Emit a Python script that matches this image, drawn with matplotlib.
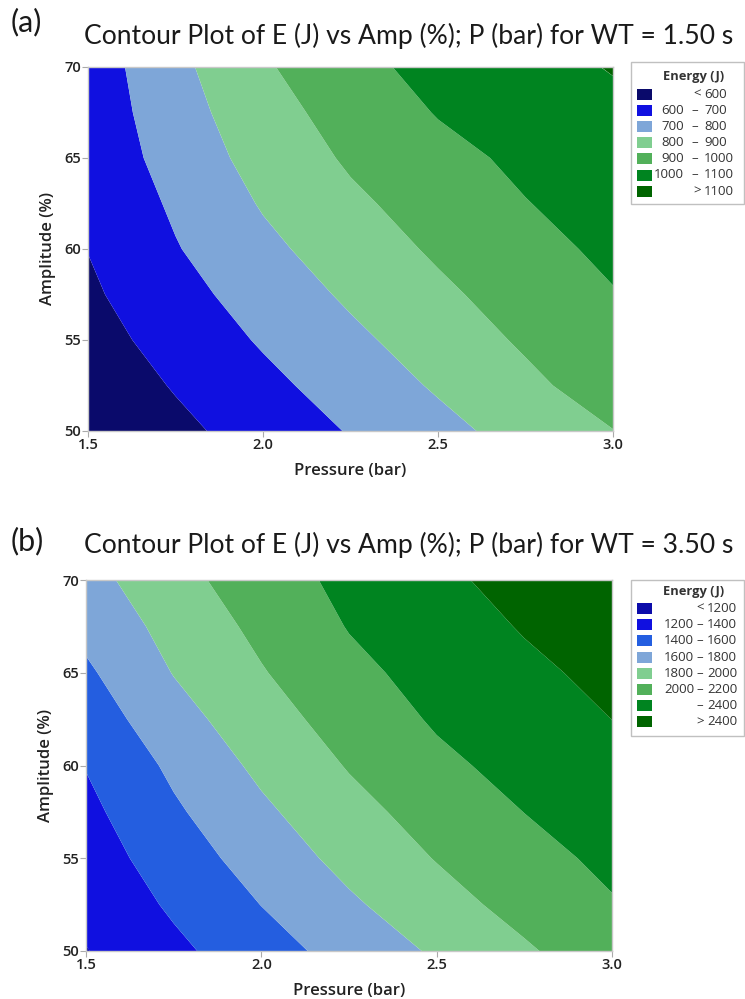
import numpy as np
import matplotlib
matplotlib.use("Agg")
import matplotlib.pyplot as plt
from matplotlib.patches import Rectangle

# ---------------- data ----------------
pressure = [1.5, 1.75, 2.0, 2.25, 2.5, 2.75, 3.0]
amplitude = [50, 52.5, 55, 57.5, 60, 62.5, 65, 67.5, 70]

# Energy (J) at WT = 1.50 s, rows = amplitude, cols = pressure
energy_a_500 = [512, 577, 641, 706, 771, 837, 898]
energy_a_525 = [537, 607, 675, 743, 811, 879, 946]
energy_a_550 = [562, 637, 710, 779, 847, 913, 975]
energy_a_575 = [584, 666, 743, 815, 881, 943, 995]
energy_a_600 = [602, 694, 777, 849, 914, 969, 1020]
energy_a_625 = [616, 715, 808, 882, 942, 997, 1038]
energy_a_650 = [630, 740, 836, 913, 972, 1019, 1055]
energy_a_675 = [639, 758, 861, 940, 1005, 1046, 1080]
energy_a_700 = [645, 775, 887, 975, 1027, 1070, 1105]

# Energy (J) at WT = 3.50 s
energy_b_500 = [1193, 1357, 1517, 1674, 1826, 1974, 2125]
energy_b_525 = [1251, 1429, 1603, 1770, 1923, 2068, 2185]
energy_b_550 = [1302, 1498, 1687, 1858, 2009, 2132, 2244]
energy_b_575 = [1351, 1571, 1764, 1938, 2079, 2202, 2302]
energy_b_600 = [1408, 1639, 1843, 2013, 2158, 2262, 2360]
energy_b_625 = [1490, 1725, 1918, 2083, 2222, 2311, 2401]
energy_b_650 = [1569, 1807, 1987, 2152, 2267, 2362, 2446]
energy_b_675 = [1655, 1867, 2047, 2209, 2313, 2413, 2496]
energy_b_700 = [1731, 1933, 2107, 2249, 2364, 2457, 2541]

bounds_a = [600, 700, 800, 900, 1000, 1100]
bounds_b = [1200, 1400, 1600, 1800, 2000, 2200, 2400]

labels_a = [("", "<", "600"), ("600", "–", "700"), ("700", "–", "800"),
            ("800", "–", "900"), ("900", "–", "1000"), ("1000", "–", "1100"),
            ("", ">", "1100")]
labels_b = [("", "<", "1200"), ("1200", "–", "1400"), ("1400", "–", "1600"),
            ("1600", "–", "1800"), ("1800", "–", "2000"), ("2000", "–", "2200"),
            ("", "–", "2400"), ("", ">", "2400")]

colors_a = ['#0a0a6b', '#1010e0', '#7ea6d8', '#80ce90', '#52b05a', '#008420', '#006400']
colors_b = ['#0c0caa', '#1010e0', '#245ee0', '#7ea6d8', '#80ce90', '#52b05a', '#008420', '#006400']

titles = ["Contour Plot of E (J) vs Amp (%); P (bar) for WT = 1.50 s",
          "Contour Plot of E (J) vs Amp (%); P (bar) for WT = 3.50 s"]
panel_tags = ["(a)", "(b)"]
x_ticks = [1.5, 2.0, 2.5, 3.0]
y_ticks = [50, 55, 60, 65, 70]

W, H = 745, 999
fig = plt.figure(figsize=(W / 100, H / 100), dpi=100)
fig.patch.set_facecolor("white")

TITLE_FONT = ["Lato", "DejaVu Sans"]
AX_FONT = ["Open Sans", "DejaVu Sans"]
LEG_FONT = ["Open Sans", "DejaVu Sans"]


def fx(px):
    return px / W


def fy(py):
    return 1 - py / H


def draw_panel(ax_box, Z, bounds, colors, tag, title, tag_y, title_y,
               leg_box, leg_labels, leg_title_y, leg_first_y, leg_step,
               leg_num_r, leg_dash_x, leg_num_l):
    x0, x1, y0, y1 = ax_box
    ax = fig.add_axes([fx(x0), fy(y1), fx(x1 - x0), (y1 - y0) / H])
    P, A = np.meshgrid(pressure, amplitude)
    Z = np.array(Z, dtype=float)
    levels = [Z.min() - 100] + bounds + [Z.max() + 100]
    ax.contourf(P, A, Z, levels=levels, colors=colors, antialiased=True)
    ax.set_xlim(1.5, 3.0)
    ax.set_ylim(50, 70)
    ax.set_xticks(x_ticks)
    ax.set_yticks(y_ticks)
    ax.set_xticklabels([f"{v:.1f}" for v in x_ticks], fontfamily=AX_FONT,
                       fontweight="semibold", fontsize=10.5, color="#222222")
    ax.set_yticklabels([str(v) for v in y_ticks], fontfamily=AX_FONT,
                       fontweight="semibold", fontsize=10.5, color="#222222")
    ax.tick_params(axis="both", length=4, width=0.8, color="#aaaaaa", pad=1)
    for s in ax.spines.values():
        s.set_color("#c8c8c8")
        s.set_linewidth(1.0)
    ax.set_xlabel("Pressure (bar)", fontfamily=AX_FONT, fontweight="semibold",
                  fontsize=12, color="#222222", labelpad=8)
    ax.set_ylabel("Amplitude (%)", fontfamily=AX_FONT, fontweight="semibold",
                  fontsize=12, color="#222222", labelpad=6)

    fig.text(fx(11), fy(tag_y), tag, fontfamily=TITLE_FONT, fontsize=22,
             color="#1a1a1a", va="center", ha="left")
    fig.text(fx(84), fy(title_y), title, fontfamily=TITLE_FONT, fontsize=19.1,
             color="#1a1a1a", va="center", ha="left")

    # legend box
    lx0, ly0, lx1, ly1 = leg_box
    fig.patches.append(Rectangle((fx(lx0), fy(ly1)), fx(lx1 - lx0), (ly1 - ly0) / H,
                                 transform=fig.transFigure, facecolor="white",
                                 edgecolor="#c0c0c0", linewidth=1.0))
    fig.text(fx((lx0 + lx1) / 2 + 6), fy(leg_title_y), "Energy (J)", fontfamily=LEG_FONT,
             fontweight="bold", fontsize=9.3, color="#333333", ha="center", va="center")
    for i, (lab, col) in enumerate(zip(leg_labels, colors)):
        yc = leg_first_y + i * leg_step
        fig.patches.append(Rectangle((fx(lx0 + 6), fy(yc + 5.5)), fx(15), 11 / H,
                                     transform=fig.transFigure, facecolor=col,
                                     edgecolor="none"))
        left, sym, right = lab
        if left:
            fig.text(fx(leg_num_r), fy(yc), left, fontfamily=LEG_FONT, fontsize=9.5,
                     color="#333333", ha="right", va="center")
        if sym == "–":
            fig.text(fx(leg_dash_x), fy(yc), sym, fontfamily=LEG_FONT, fontsize=9.5,
                     color="#333333", ha="center", va="center")
        else:
            fig.text(fx(leg_num_l - 3), fy(yc), sym, fontfamily=LEG_FONT, fontsize=9.5,
                     color="#333333", ha="right", va="center")
        fig.text(fx(leg_num_l), fy(yc), right, fontfamily=LEG_FONT, fontsize=9.5,
                 color="#333333", ha="left", va="center")


draw_panel((88, 613, 67, 431),
           [energy_a_500, energy_a_525, energy_a_550, energy_a_575, energy_a_600,
            energy_a_625, energy_a_650, energy_a_675, energy_a_700],
           bounds_a, colors_a, panel_tags[0], titles[0], 22, 36,
           (631, 62, 744, 204), labels_a, 76, 94.5, 16.1, 684, 695, 704)

draw_panel((86, 612, 580, 951),
           [energy_b_500, energy_b_525, energy_b_550, energy_b_575, energy_b_600,
            energy_b_625, energy_b_650, energy_b_675, energy_b_700],
           bounds_b, colors_b, panel_tags[1], titles[1], 541, 545,
           (631, 580, 744, 736), labels_b, 592, 608.5, 16.2, 694, 700, 707)

fig.savefig("out.png", dpi=100, facecolor="white")
